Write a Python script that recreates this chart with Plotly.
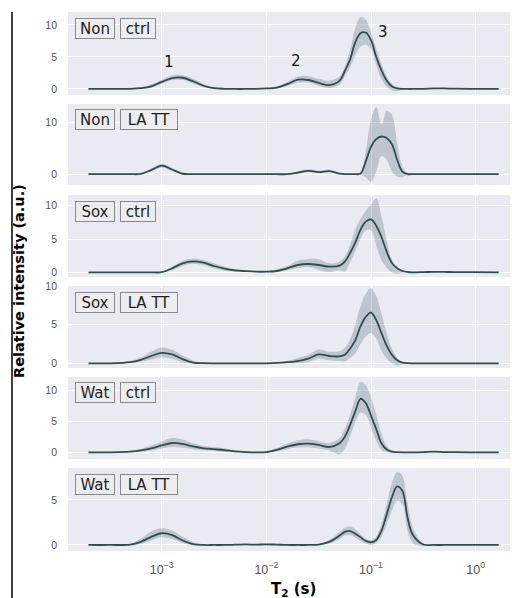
import plotly.graph_objects as go
from plotly.subplots import make_subplots

# ---------------- data ----------------
LOG_T2 = [-3.7, -3.5, -3.3, -3.2, -3.1, -3.0, -2.9, -2.8, -2.7, -2.6, -2.5, -2.4, -2.3, -2.2,
          -2.1, -2.0, -1.9, -1.8, -1.7, -1.6, -1.5, -1.4, -1.3, -1.25, -1.2, -1.15, -1.1, -1.05,
          -1.0, -0.95, -0.9, -0.85, -0.8, -0.75, -0.7, -0.65, -0.6, -0.5, -0.4, -0.3, -0.2, 0.0, 0.22]

GROUPS = ["Non", "Non", "Sox", "Sox", "Wat", "Wat"]
TREATMENTS = ["ctrl", "LA TT", "ctrl", "LA TT", "ctrl", "LA TT"]

MEAN_NON_CTRL = [0, 0, 0.02, 0.12, 0.4, 1.1, 1.7, 1.75, 1.2, 0.5, 0.12, 0.02, 0, 0, 0.02, 0.08, 0.2,
                 0.75, 1.45, 1.4, 0.95, 0.6, 1.3, 2.8, 4.6, 7.3, 8.7, 8.8, 7.6, 5.0, 2.9, 1.3, 0.4,
                 0.1, 0.02, 0, 0, 0.02, 0.08, 0.08, 0.04, 0.01, 0]
HI_NON_CTRL = [0, 0, 0.05, 0.25, 0.7, 1.45, 2.1, 2.15, 1.6, 0.8, 0.25, 0.05, 0, 0, 0.05, 0.15, 0.4,
               1.1, 1.95, 2.0, 1.6, 1.3, 2.0, 3.6, 6.0, 9.5, 11.2, 10.8, 8.8, 6.3, 3.9, 2.0, 0.8,
               0.3, 0.08, 0.02, 0, 0.04, 0.13, 0.13, 0.06, 0.02, 0]
LO_NON_CTRL = [0, 0, 0, 0.03, 0.2, 0.8, 1.35, 1.4, 0.85, 0.25, 0.02, 0, 0, 0, 0, 0.02, 0.05,
               0.45, 1.0, 1.0, 0.5, 0.15, 0.7, 2.0, 3.3, 5.3, 6.6, 6.9, 6.2, 3.7, 1.5, 0.3, -0.2,
               -0.35, -0.1, 0, 0, 0, 0.03, 0.03, 0.02, 0, 0]

MEAN_NON_LATT = [0, 0, 0, 0.05, 0.8, 1.65, 0.9, 0.08, 0, 0, 0, 0, 0, 0, 0, 0, 0, 0,
                 0.3, 0.65, 0.4, 0.6, 0.1, 0, 0, 0, 0.1, 2.5, 5.3, 6.8, 7.3, 7.0, 5.8, 2.8, 0.5,
                 0.02, 0, 0, 0, 0, 0, 0, 0]
HI_NON_LATT = [0, 0, 0, 0.15, 1.05, 2.0, 1.2, 0.2, 0, 0, 0, 0, 0, 0, 0, 0, 0, 0,
               0.55, 0.95, 0.65, 0.9, 0.25, 0.02, 0, 0, 0.3, 4.5, 10.5, 13.0, 9.6, 12.3, 11.5, 6.0,
               1.5, 0.1, 0, 0, 0, 0, 0, 0, 0]
LO_NON_LATT = [0, 0, 0, 0, 0.55, 1.3, 0.6, 0, 0, 0, 0, 0, 0, 0, 0, 0, 0, 0,
               0.1, 0.4, 0.2, 0.35, 0, 0, 0, 0, -0.1, -0.6, -1.5, 0.5, 3.5, 2.8, 0.5, -0.5,
               -0.6, -0.1, 0, 0, 0, 0, 0, 0, 0]

MEAN_SOX_CTRL = [0, 0, 0, 0, 0, 0.02, 0.6, 1.35, 1.65, 1.45, 0.95, 0.55, 0.3, 0.18, 0.1, 0.1,
                 0.2, 0.6, 1.1, 1.25, 1.1, 0.85, 1.0, 1.6, 2.9, 4.5, 6.4, 7.6, 7.95, 7.0, 5.3, 3.1,
                 1.4, 0.6, 0.2, 0.05, 0, 0.03, 0.08, 0.06, 0.03, 0.02, 0]
HI_SOX_CTRL = [0, 0, 0, 0, 0, 0.05, 0.85, 1.75, 2.05, 1.85, 1.35, 0.85, 0.5, 0.3, 0.15, 0.18,
               0.45, 0.95, 1.75, 2.0, 1.95, 1.35, 1.6, 2.4, 4.1, 6.5, 8.0, 9.2, 10.2, 11.1, 8.4,
               4.8, 1.8, 0.7, 0.3, 0.1, 0.02, 0.06, 0.15, 0.12, 0.06, 0.04, 0]
LO_SOX_CTRL = [0, 0, 0, 0, 0, 0, 0.35, 0.95, 1.3, 1.1, 0.6, 0.25, 0.1, 0.05, 0.03, 0.02,
               0.02, 0.3, 0.6, 0.8, 0.4, 0.05, 0.3, 0.1, 1.5, 3.2, 5.0, 6.3, 6.3, 4.0, 1.8, 0.7,
               0.0, -0.2, -0.05, 0, 0, 0, 0.02, 0.02, 0, 0, 0]

MEAN_SOX_LATT = [0, 0, 0.15, 0.45, 0.95, 1.35, 1.15, 0.55, 0.1, 0.02, 0, 0, 0, 0, 0, 0, 0.05,
                 0.15, 0.3, 0.6, 1.15, 0.95, 0.9, 1.1, 1.9, 3.0, 4.8, 6.0, 6.55, 5.6, 3.9, 2.3,
                 1.1, 0.4, 0.1, 0.02, 0, 0, 0, 0, 0, 0, 0]
HI_SOX_LATT = [0, 0, 0.3, 0.75, 1.5, 2.05, 1.75, 1.0, 0.35, 0.05, 0, 0, 0, 0, 0, 0, 0.1, 0.35,
               0.7, 1.1, 1.8, 1.5, 1.6, 2.0, 3.1, 5.0, 7.4, 9.0, 9.7, 8.7, 6.4, 3.9, 1.9, 0.7,
               0.2, 0.05, 0, 0, 0, 0, 0, 0, 0]
LO_SOX_LATT = [0, 0, 0.05, 0.2, 0.5, 0.8, 0.6, 0.15, -0.05, 0, 0, 0, 0, 0, 0, 0, 0, 0, 0,
               0.2, 0.6, 0.4, 0.3, 0.25, 0.7, 1.3, 2.5, 3.5, 3.9, 3.2, 1.6, 0.6, 0.0, -0.3,
               -0.1, 0, 0, 0, 0, 0, 0, 0, 0]

MEAN_WAT_CTRL = [0, 0, 0.1, 0.3, 0.65, 1.1, 1.5, 1.35, 0.95, 0.65, 0.5, 0.35, 0.15, 0.05, 0,
                 0.05, 0.4, 0.9, 1.3, 1.4, 1.2, 0.85, 1.45, 2.5, 4.4, 6.6, 8.6, 7.9, 5.9, 3.7,
                 1.45, 0.45, 0.1, 0.03, 0, 0, 0, 0.05, 0.12, 0.05, 0.02, 0, 0]
HI_WAT_CTRL = [0, 0, 0.2, 0.55, 1.1, 1.75, 2.3, 2.05, 1.45, 1.0, 0.85, 0.65, 0.3, 0.1, 0.02,
               0.15, 0.7, 1.4, 1.9, 2.1, 1.8, 1.5, 2.3, 3.8, 6.0, 8.8, 11.3, 10.8, 8.8, 6.0,
               3.0, 1.0, 0.3, 0.08, 0.02, 0, 0, 0.1, 0.2, 0.1, 0.04, 0, 0]
LO_WAT_CTRL = [0, 0, 0.02, 0.1, 0.3, 0.6, 0.85, 0.75, 0.5, 0.35, 0.2, 0.05, 0, 0, 0, 0, 0.15,
               0.5, 0.8, 0.8, 0.6, 0.3, -0.3, 0.6, 2.6, 4.8, 6.4, 6.0, 4.0, 1.8, 0.4, 0.0,
               -0.05, 0, 0, 0, 0, 0.02, 0.05, 0.02, 0, 0, 0]

MEAN_WAT_LATT = [0, 0, 0.05, 0.35, 0.9, 1.3, 1.1, 0.5, 0.1, 0, 0, 0, 0.03, 0.06, 0.03, 0.07,
                 0.04, 0, 0, 0, 0.05, 0.35, 1.05, 1.45, 1.55, 1.25, 0.85, 0.45, 0.3, 0.55, 1.6,
                 3.4, 5.3, 6.5, 6.0, 3.0, 1.1, 0.05, 0, 0, 0, 0, 0]
HI_WAT_LATT = [0, 0, 0.1, 0.7, 1.5, 1.85, 1.6, 0.9, 0.3, 0.02, 0, 0, 0.05, 0.1, 0.05, 0.1,
               0.06, 0, 0, 0, 0.1, 0.55, 1.45, 1.95, 2.05, 1.75, 1.2, 0.7, 0.55, 0.9, 2.3, 4.6,
               6.9, 8.1, 7.7, 4.6, 1.9, 0.15, 0, 0, 0, 0, 0]
LO_WAT_LATT = [0, 0, 0, 0.1, 0.5, 0.85, 0.65, 0.2, 0, 0, 0, 0, 0, 0.02, 0, 0.03, 0, 0, 0, 0,
               0, 0.15, 0.7, 1.05, 1.1, 0.8, 0.45, 0.15, 0.0, 0.2, 0.9, 2.3, 3.8, 4.9, 4.5, 1.5,
               0.2, -0.1, 0, 0, 0, 0, 0]

MEANS = [MEAN_NON_CTRL, MEAN_NON_LATT, MEAN_SOX_CTRL, MEAN_SOX_LATT, MEAN_WAT_CTRL, MEAN_WAT_LATT]
HIS = [HI_NON_CTRL, HI_NON_LATT, HI_SOX_CTRL, HI_SOX_LATT, HI_WAT_CTRL, HI_WAT_LATT]
LOS = [LO_NON_CTRL, LO_NON_LATT, LO_SOX_CTRL, LO_SOX_LATT, LO_WAT_CTRL, LO_WAT_LATT]

Y_TICKS = [[0, 5, 10], [0, 10], [0, 5, 10], [0, 5, 10], [0, 5, 10], [0, 5]]
Y_RANGES = [[-0.94, 12.0], [-2.1, 13.6], [-0.7, 11.6], [-0.6, 10.0], [-1.07, 12.1], [-0.67, 8.55]]

X_TICKVALS = [1e-3, 1e-2, 1e-1, 1e0]
X_TICKTEXT = ["10<sup>−3</sup>", "10<sup>−2</sup>", "10<sup>−1</sup>", "10<sup>0</sup>"]

PEAK_LABELS = ["1", "2", "3"]
PEAK_LABEL_LOGX = [-2.93, -1.72, -0.89]
PEAK_LABEL_Y = [4.2, 4.4, 8.9]

T2 = [10 ** v for v in LOG_T2]

# ---------------- layout geometry ----------------
W, H = 512, 598
PL, PR = 68, 510
PT, PB = 12, 551
PANEL_TOP = [12, 104, 195, 286, 377, 468]
PANEL_BOT = [95, 185, 277, 368, 459, 551]

BG = "#EAEAF2"
LINE = "#2F4F4F"
BAND = "rgba(112,128,144,0.35)"

fig = make_subplots(rows=6, cols=1, shared_xaxes=True, vertical_spacing=0.01)

for i in range(6):
    r = i + 1
    fig.add_trace(go.Scatter(x=T2, y=HIS[i], mode="lines", line=dict(width=0, color=BAND, shape="spline"),
                             hoverinfo="skip", showlegend=False), row=r, col=1)
    fig.add_trace(go.Scatter(x=T2, y=LOS[i], mode="lines", line=dict(width=0, color=BAND, shape="spline"),
                             fill="tonexty", fillcolor=BAND, hoverinfo="skip", showlegend=False), row=r, col=1)
    fig.add_trace(go.Scatter(x=T2, y=MEANS[i], mode="lines", line=dict(width=1.8, color=LINE, shape="spline"),
                             showlegend=False), row=r, col=1)

def py(px):
    return (PB - px) / (PB - PT)

layout_updates = {}
for i in range(6):
    sfx = "" if i == 0 else str(i + 1)
    layout_updates["yaxis" + sfx] = dict(
        domain=[py(PANEL_BOT[i]), py(PANEL_TOP[i])],
        range=Y_RANGES[i], tickvals=Y_TICKS[i], ticktext=[str(t) for t in Y_TICKS[i]],
        showgrid=True, gridcolor="white", gridwidth=1.2, zeroline=False, showline=False,
        ticks="", ticklabelstandoff=10,
        tickfont=dict(family="Liberation Sans, Arial, sans-serif", size=10.5, color="#555555"),
    )
    layout_updates["xaxis" + sfx] = dict(
        type="log", range=[-3.895, 0.328], tickvals=X_TICKVALS, ticktext=X_TICKTEXT,
        showgrid=True, gridcolor="white", gridwidth=1.2, zeroline=False, showline=False,
        ticks="", showticklabels=(i == 5), ticklabelstandoff=9,
        tickfont=dict(family="Liberation Sans, Arial, sans-serif", size=12.5, color="#555555"),
    )
fig.update_layout(**layout_updates)

annotations = []
BOX_FONT = dict(family="DejaVu Sans, sans-serif", size=15, color="#222222")
for i in range(6):
    sfx = "" if i == 0 else str(i + 1)
    ydom = 1 - 5.5 / (PANEL_BOT[i] - PANEL_TOP[i])
    w2 = 34 if TREATMENTS[i] == "ctrl" else 56
    annotations.append(dict(text=GROUPS[i], xref="x" + sfx + " domain", yref="y" + sfx + " domain",
                            x=(75 - PL) / (PR - PL), y=ydom, xanchor="left", yanchor="top",
                            showarrow=False, font=BOX_FONT, bgcolor="#EDEDEF", bordercolor="#8a8a8a",
                            borderwidth=1, borderpad=0, width=38, height=19))
    annotations.append(dict(text=TREATMENTS[i], xref="x" + sfx + " domain", yref="y" + sfx + " domain",
                            x=(120 - PL) / (PR - PL), y=ydom, xanchor="left", yanchor="top",
                            showarrow=False, font=BOX_FONT, bgcolor="#EDEDEF", bordercolor="#8a8a8a",
                            borderwidth=1, borderpad=0, width=w2, height=19))

for lab, lx, ly in zip(PEAK_LABELS, PEAK_LABEL_LOGX, PEAK_LABEL_Y):
    annotations.append(dict(text=lab, x=lx, y=ly, xref="x", yref="y", showarrow=False,
                            font=dict(family="DejaVu Sans, sans-serif", size=15, color="#111111")))

annotations.append(dict(text="<b>Relative intensity (a.u.)</b>", xref="paper", yref="paper",
                        x=(19 - PL) / (PR - PL), y=py(281), textangle=-90, showarrow=False,
                        xanchor="center", yanchor="middle",
                        font=dict(family="DejaVu Sans, sans-serif", size=14.5, color="#000000")))
annotations.append(dict(text="<b>T<sub>2</sub> (s)</b>", xref="paper", yref="paper",
                        x=(293 - PL) / (PR - PL), y=py(589), showarrow=False,
                        xanchor="center", yanchor="middle",
                        font=dict(family="DejaVu Sans, sans-serif", size=15, color="#000000")))

fig.update_layout(
    width=W, height=H,
    margin=dict(l=PL, r=W - PR, t=PT, b=H - PB),
    paper_bgcolor="white", plot_bgcolor=BG,
    annotations=annotations,
    shapes=[dict(type="line", xref="paper", yref="paper",
                 x0=(12 - PL) / (PR - PL), x1=(12 - PL) / (PR - PL),
                 y0=py(598), y1=py(12), line=dict(color="black", width=1.5))],
    showlegend=False,
)

fig.write_html("out.html", config={"displayModeBar": False},
               post_script="document.body.style.margin='0';document.body.style.overflow='hidden';")
